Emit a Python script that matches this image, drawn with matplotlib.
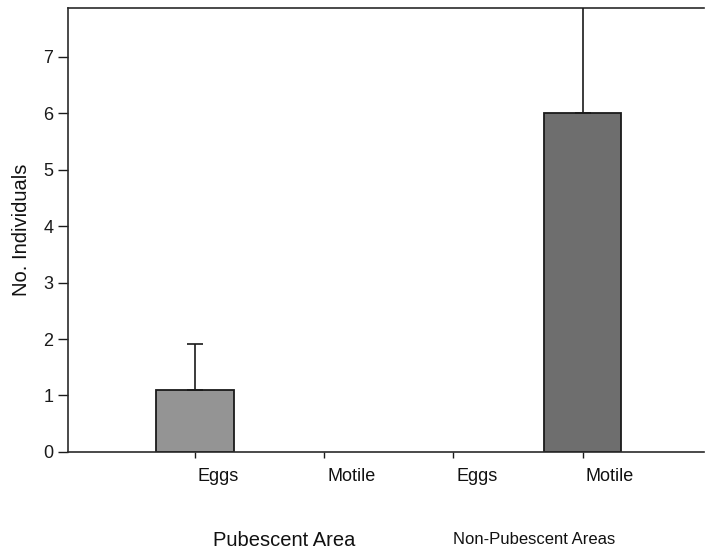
import numpy as np
import matplotlib.pyplot as plt
import matplotlib.transforms as mtransforms

plt.rcParams['font.family'] = ['Liberation Sans', 'DejaVu Sans']

# categories and values
cats = ["Eggs", "Motile", "Eggs", "Motile"]
means = [1.1, 0.0, 0.0, 6.0]
upper_err = [0.82, 0.0, 0.0, 2.1]
bar_colors = ["#949494", "#949494", "#949494", "#6e6e6e"]
groups = ["Pubescent Area", "Non-Pubescent Areas"]
yticks = [0, 1, 2, 3, 4, 5, 6, 7]

fig = plt.figure(figsize=(7.05, 5.52), dpi=100)
ax = fig.add_axes([0.0965, 0.1812, 0.9021, 0.8043])

x = np.arange(len(cats))
for i in range(len(cats)):
    if means[i] > 0:
        ax.bar(x[i], means[i], width=0.6, color=bar_colors[i],
               edgecolor="#1a1a1a", linewidth=1.3, zorder=2)
        ax.errorbar(x[i], means[i], yerr=[[0], [upper_err[i]]], fmt="none",
                    ecolor="#1a1a1a", elinewidth=1.2, capsize=5.5,
                    capthick=1.2, zorder=3)

ax.set_xlim(-0.982, 3.94)
ax.set_ylim(0, 7.86)
ax.set_yticks(yticks)
ax.set_yticklabels([str(t) for t in yticks], fontsize=13)
ax.set_xticks(x)
ax.set_xticklabels([])
ax.tick_params(axis="y", length=7, width=1.0, pad=3.5, colors="#1a1a1a")
ax.tick_params(axis="x", length=4, width=1.0, colors="#1a1a1a")

for s in ["left", "bottom", "top"]:
    ax.spines[s].set_linewidth(1.2)
    ax.spines[s].set_color("#2a2a2a")
ax.spines["right"].set_visible(False)

# category labels sit just right of each tick
off = mtransforms.ScaledTranslation(3 / 100, 0, fig.dpi_scale_trans)
trans = mtransforms.blended_transform_factory(ax.transData, ax.transAxes) + off
for i, c in enumerate(cats):
    ax.text(x[i], -0.056, c, transform=trans, ha="left", va="center",
            fontsize=13, color="#111111")

ax.set_ylabel("No. Individuals", fontsize=14.5, labelpad=9, color="#111111")

fig.text(284 / 705, 1 - 540 / 552, groups[0], ha="center", va="center",
         fontsize=14.5, color="#111111")
fig.text(534 / 705, 1 - 540 / 552, groups[1], ha="center", va="center",
         fontsize=12, color="#111111")

fig.savefig("out.png", dpi=100)
